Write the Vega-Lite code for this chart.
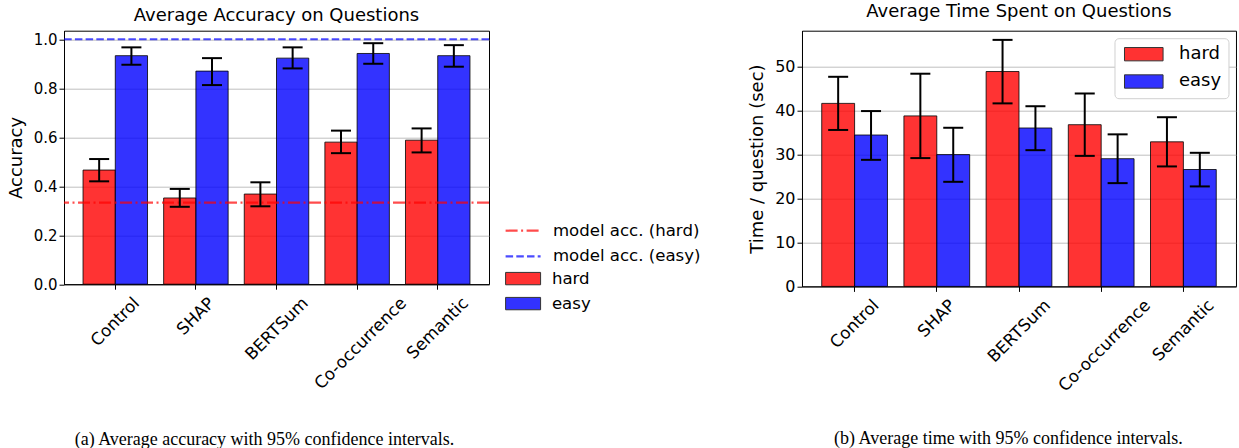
{
  "$schema": "https://vega.github.io/schema/vega-lite/v6.json",
  "background": "white",
  "padding": {"left": 6, "top": 2.7, "right": 0, "bottom": 0},
  "spacing": 41,
  "bounds": "full",
  "resolve": {
    "scale": {"fill": "independent", "stroke": "independent", "strokeDash": "independent", "xOffset": "independent"},
    "legend": {"fill": "independent", "stroke": "independent", "strokeDash": "independent"}
  },
  "config": {
    "font": "DejaVu Sans",
    "view": {"stroke": "black", "strokeWidth": 1},
    "title": {"font": "DejaVu Sans", "fontWeight": "normal", "color": "black", "fontSize": 18},
    "axis": {
      "labelFont": "DejaVu Sans", "labelColor": "black", "titleColor": "black",
      "titleFont": "DejaVu Sans", "titleFontWeight": "normal",
      "tickColor": "black", "domainColor": "black", "tickSize": 5,
      "gridColor": "#b0b0b0", "gridWidth": 0.8
    }
  },
  "datasets": {
    "acc": [
      {"method": "Control", "group": "hard", "value": 0.466, "lo": 0.42, "hi": 0.511},
      {"method": "Control", "group": "easy", "value": 0.933, "lo": 0.896, "hi": 0.967},
      {"method": "SHAP", "group": "hard", "value": 0.352, "lo": 0.316, "hi": 0.389},
      {"method": "SHAP", "group": "easy", "value": 0.87, "lo": 0.813, "hi": 0.923},
      {"method": "BERTSum", "group": "hard", "value": 0.368, "lo": 0.318, "hi": 0.416},
      {"method": "BERTSum", "group": "easy", "value": 0.923, "lo": 0.881, "hi": 0.967},
      {"method": "Co-occurrence", "group": "hard", "value": 0.58, "lo": 0.535, "hi": 0.627},
      {"method": "Co-occurrence", "group": "easy", "value": 0.942, "lo": 0.9, "hi": 0.984},
      {"method": "Semantic", "group": "hard", "value": 0.588, "lo": 0.538, "hi": 0.636},
      {"method": "Semantic", "group": "easy", "value": 0.933, "lo": 0.888, "hi": 0.976}
    ],
    "model": [
      {"group": "model acc. (hard)", "value": 0.3333},
      {"group": "model acc. (easy)", "value": 1.0}
    ],
    "time": [
      {"method": "Control", "group": "hard", "value": 41.65, "lo": 35.6, "hi": 47.7},
      {"method": "Control", "group": "easy", "value": 34.45, "lo": 28.8, "hi": 39.9},
      {"method": "SHAP", "group": "hard", "value": 38.8, "lo": 29.2, "hi": 48.4},
      {"method": "SHAP", "group": "easy", "value": 30.0, "lo": 23.8, "hi": 36.1},
      {"method": "BERTSum", "group": "hard", "value": 48.9, "lo": 41.65, "hi": 56.1},
      {"method": "BERTSum", "group": "easy", "value": 36.05, "lo": 31.0, "hi": 41.0},
      {"method": "Co-occurrence", "group": "hard", "value": 36.8, "lo": 29.7, "hi": 43.9},
      {"method": "Co-occurrence", "group": "easy", "value": 29.06, "lo": 23.5, "hi": 34.6},
      {"method": "Semantic", "group": "hard", "value": 32.9, "lo": 27.3, "hi": 38.5},
      {"method": "Semantic", "group": "easy", "value": 26.6, "lo": 22.75, "hi": 30.4}
    ]
  },
  "hconcat": [
    {
      "width": 425,
      "height": 253.5,
      "title": {"text": "Average Accuracy on Questions", "offset": 5.7},
      "layer": [
        {
          "data": {"name": "acc"},
          "mark": {"type": "bar", "fillOpacity": 0.8, "stroke": "black", "strokeOpacity": 0.8, "strokeWidth": 1},
          "encoding": {
            "x": {
              "field": "method", "type": "nominal",
              "sort": ["Control", "SHAP", "BERTSum", "Co-occurrence", "Semantic"],
              "scale": {"paddingInner": 0.2, "paddingOuter": 0.236},
              "axis": {
                "labelAngle": -45, "labelAlign": "right", "labelBaseline": "middle",
                "labelFontSize": 16.8, "labelPadding": 11,
                "labelOffset": {"condition": [
                  {"test": "datum.value == 'Control'", "value": 21.6},
                  {"test": "datum.value == 'SHAP'", "value": 15.9},
                  {"test": "datum.value == 'BERTSum'", "value": 28.9},
                  {"test": "datum.value == 'Co-occurrence'", "value": 46.6}
                ], "value": 27.9},
                "title": "(a) Average accuracy with 95% confidence intervals.",
                "titleFont": "Liberation Serif", "titleFontSize": 18,
                "titleX": 200, "titleY": 155.5, "titleAlign": "center", "titleBaseline": "middle"
              }
            },
            "xOffset": {"field": "group", "type": "nominal", "sort": ["hard", "easy"], "scale": {"paddingInner": 0, "paddingOuter": 0}},
            "y": {
              "field": "value", "type": "quantitative",
              "scale": {"domain": [0, 1.035], "nice": false},
              "axis": {"title": "Accuracy", "titleFontSize": 18, "labelFontSize": 15, "values": [0, 0.2, 0.4, 0.6, 0.8, 1.0], "format": ".1f", "grid": true, "titlePadding": 8}
            },
            "fill": {
              "field": "group", "type": "nominal",
              "scale": {"domain": ["hard", "easy"], "range": ["#ff0000", "#0000ff"]},
              "legend": {
                "title": null, "orient": "none", "legendX": 434.3, "legendY": 234.6,
                "labelFontSize": 16.6, "labelColor": "black", "labelFont": "DejaVu Sans", "labelOffset": 32,
                "symbolSize": 144, "symbolType": "M-1,-1.03H4.83V1.03H-1Z",
                "symbolStrokeColor": "#000000", "symbolStrokeWidth": 1, "symbolOpacity": 0.8,
                "fillColor": "white", "padding": 5, "rowPadding": 8
              }
            }
          }
        },
        {
          "data": {"name": "model"},
          "mark": {"type": "rule", "strokeWidth": 2.2, "strokeOpacity": 0.7},
          "encoding": {
            "y": {"field": "value", "type": "quantitative"},
            "stroke": {
              "field": "group", "type": "nominal",
              "scale": {"domain": ["model acc. (hard)", "model acc. (easy)"], "range": ["#ff0000", "#0000ff"]},
              "legend": {
                "title": null, "orient": "none", "legendX": 434.3, "legendY": 186.7,
                "labelFontSize": 16.6, "labelColor": "black", "labelFont": "DejaVu Sans", "labelOffset": 33,
                "symbolSize": 144, "symbolType": "M-1,0H4.83",
                "symbolStrokeWidth": 2.2, "symbolOpacity": 0.7,
                "fillColor": "white", "padding": 5, "rowPadding": 8.6
              }
            },
            "strokeDash": {
              "field": "group", "type": "nominal",
              "scale": {"domain": ["model acc. (hard)", "model acc. (easy)"], "range": [[12, 3.5, 2, 3.5], [7.5, 3.2]]},
              "legend": {
                "title": null, "orient": "none", "legendX": 434.3, "legendY": 186.7,
                "labelFontSize": 16.6, "labelColor": "black", "labelFont": "DejaVu Sans", "labelOffset": 33,
                "symbolSize": 144, "symbolType": "M-1,0H4.83",
                "symbolStrokeWidth": 2.2, "symbolOpacity": 0.7,
                "fillColor": "white", "padding": 5, "rowPadding": 8.6
              }
            }
          }
        },
        {
          "data": {"name": "acc"},
          "mark": {"type": "rule", "color": "black", "strokeWidth": 2},
          "encoding": {
            "x": {"field": "method", "type": "nominal", "sort": ["Control", "SHAP", "BERTSum", "Co-occurrence", "Semantic"]},
            "xOffset": {"field": "group", "type": "nominal", "sort": ["hard", "easy"]},
            "y": {"field": "lo", "type": "quantitative"},
            "y2": {"field": "hi"}
          }
        },
        {
          "data": {"name": "acc"},
          "mark": {"type": "tick", "color": "black", "thickness": 2, "size": 20, "opacity": 1},
          "encoding": {
            "x": {"field": "method", "type": "nominal", "sort": ["Control", "SHAP", "BERTSum", "Co-occurrence", "Semantic"]},
            "xOffset": {"field": "group", "type": "nominal", "sort": ["hard", "easy"]},
            "y": {"field": "lo", "type": "quantitative"}
          }
        },
        {
          "data": {"name": "acc"},
          "mark": {"type": "tick", "color": "black", "thickness": 2, "size": 20, "opacity": 1},
          "encoding": {
            "x": {"field": "method", "type": "nominal", "sort": ["Control", "SHAP", "BERTSum", "Co-occurrence", "Semantic"]},
            "xOffset": {"field": "group", "type": "nominal", "sort": ["hard", "easy"]},
            "y": {"field": "hi", "type": "quantitative"}
          }
        }
      ]
    },
    {
      "width": 434,
      "height": 255.7,
      "title": {"text": "Average Time Spent on Questions", "offset": 9.3},
      "data": {"name": "time"},
      "encoding": {
        "x": {
          "field": "method", "type": "nominal",
          "sort": ["Control", "SHAP", "BERTSum", "Co-occurrence", "Semantic"],
          "scale": {"paddingInner": 0.2, "paddingOuter": 0.24},
          "axis": {
            "labelAngle": -45, "labelAlign": "right", "labelBaseline": "middle",
            "labelFontSize": 16.8, "labelPadding": 11,
            "labelOffset": {"condition": [
              {"test": "datum.value == 'Control'", "value": 21.6},
              {"test": "datum.value == 'SHAP'", "value": 15.9},
              {"test": "datum.value == 'BERTSum'", "value": 28.9},
              {"test": "datum.value == 'Co-occurrence'", "value": 46.6}
            ], "value": 27.9},
            "title": "(b) Average time with 95% confidence intervals.",
            "titleFont": "Liberation Serif", "titleFontSize": 18,
            "titleX": 206, "titleY": 151.8, "titleAlign": "center", "titleBaseline": "middle"
          }
        },
        "xOffset": {"field": "group", "type": "nominal", "sort": ["hard", "easy"], "scale": {"paddingInner": 0, "paddingOuter": 0}}
      },
      "layer": [
        {
          "mark": {"type": "bar", "fillOpacity": 0.8, "stroke": "black", "strokeOpacity": 0.8, "strokeWidth": 1},
          "encoding": {
            "y": {
              "field": "value", "type": "quantitative",
              "scale": {"domain": [0, 58.19], "nice": false},
              "axis": {"title": "Time / question (sec)", "titleFontSize": 18, "labelFontSize": 16, "values": [0, 10, 20, 30, 40, 50], "grid": true, "titlePadding": 8}
            },
            "fill": {
              "field": "group", "type": "nominal",
              "scale": {"domain": ["hard", "easy"], "range": ["#ff0000", "#0000ff"]},
              "legend": {
                "title": null, "orient": "none", "legendX": 312.5, "legendY": 7.5,
                "labelFontSize": 18, "labelColor": "black", "labelFont": "DejaVu Sans", "labelOffset": 39.5,
                "symbolSize": 144, "symbolType": "M-1,-1.11H5.43V1.11H-1Z",
                "symbolStrokeColor": "#000000", "symbolStrokeWidth": 1, "symbolOpacity": 0.8,
                "fillColor": "white", "strokeColor": "#d0d0d0", "cornerRadius": 4, "padding": 7, "rowPadding": 9.3
              }
            }
          }
        },
        {
          "mark": {"type": "rule", "color": "black", "strokeWidth": 2},
          "encoding": {
            "y": {"field": "lo", "type": "quantitative"},
            "y2": {"field": "hi"}
          }
        },
        {
          "mark": {"type": "tick", "color": "black", "thickness": 2, "size": 20, "opacity": 1},
          "encoding": {"y": {"field": "lo", "type": "quantitative"}}
        },
        {
          "mark": {"type": "tick", "color": "black", "thickness": 2, "size": 20, "opacity": 1},
          "encoding": {"y": {"field": "hi", "type": "quantitative"}}
        }
      ]
    }
  ]
}
